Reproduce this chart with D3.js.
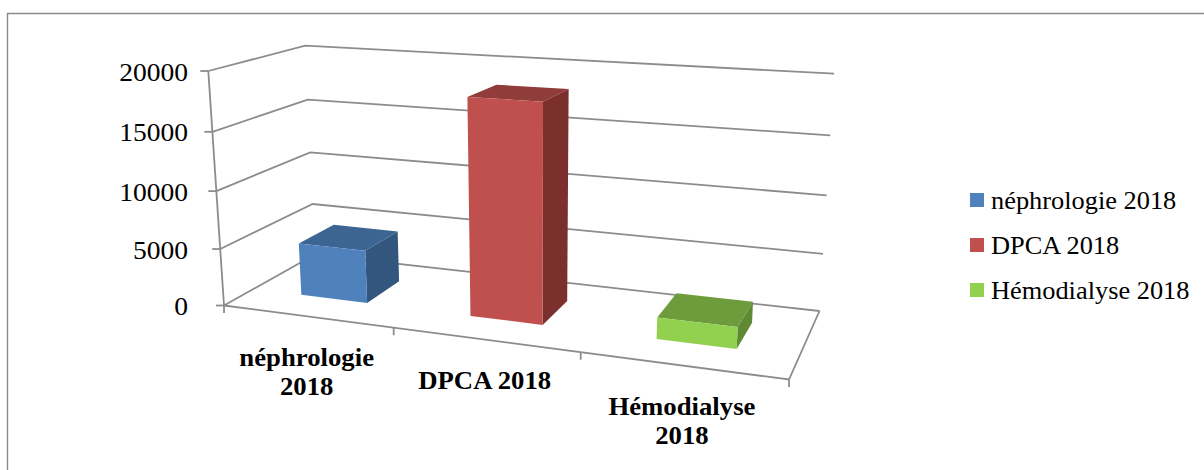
<!DOCTYPE html>
<html><head><meta charset="utf-8">
<script src="https://cdn.jsdelivr.net/npm/d3@7"></script>
<style>
html,body{margin:0;padding:0;background:#fff;}
svg{display:block;}
text{font-family:"Liberation Serif","Times New Roman",serif;fill:#000;}
</style></head><body>
<div id="chart"></div>
<script>
const categories = ["néphrologie 2018", "DPCA 2018", "Hémodialyse 2018"];
const values = [4650, 18300, 1800];
const yTicks = [0, 5000, 10000, 15000, 20000];
const faceColors = ["#4f81bd", "#c0504d", "#92d050"];
const topColors = ["#3d6593", "#8f3c3a", "#6e9c3c"];
const sideColors = ["#33567f", "#7b302e", "#5f8a33"];
const categoryLabels = [["néphrologie", "2018"], ["DPCA 2018"], ["Hémodialyse", "2018"]];

const W = 1204, H = 470;
const svg = d3.select("#chart").append("svg").attr("width", W).attr("height", H);

// projective calibration of the 3D box (u along categories, v in depth, h in height)
const O = [224, 305.5], U = [789, 379.5], V = [315, 254.5], D = [819.5, 311], T = [208.3, 71], DT = [834, 73.5];
const d1 = [U[0]-D[0], U[1]-D[1]], d2 = [V[0]-D[0], V[1]-D[1]], s = [O[0]-U[0]+D[0]-V[0], O[1]-U[1]+D[1]-V[1]];
const den = d1[0]*d2[1]-d2[0]*d1[1];
const p = (s[0]*d2[1]-d2[0]*s[1])/den, q = (d1[0]*s[1]-s[0]*d1[1])/den;
const a = [0,1].map(i => U[i]*(1+p)-O[i]), b = [0,1].map(i => V[i]*(1+q)-O[i]);
// vanishing point of the vertical edges gives the height perspective
const k1 = (T[0]-O[0])/(T[1]-O[1]), k2 = (DT[0]-D[0])/(DT[1]-D[1]);
const vpY = (D[0]-O[0]+k1*O[1]-k2*D[1])/(k1-k2);
const r = (vpY-O[1])/(vpY-T[1])-1;
const c = [0,1].map(i => T[i]*(1+r)-O[i]);
// category boundaries on the front edge
const tickX = [393.7, 580.7];
const uWarp = d3.scaleLinear().domain([0, 1/3, 2/3, 1])
  .range([0, ...tickX.map(x => (x-O[0])/(a[0]-p*x)), 1]);
function project(u0, v, h) {
  const u = uWarp(u0);
  const w = 1 + p*u + q*v + r*h;
  return [(O[0]+u*a[0]+v*b[0]+h*c[0])/w, (O[1]+u*a[1]+v*b[1]+h*c[1])/w + 2*u*v*h];
}

const xScale = d3.scaleBand().domain(categories).range([0, 1]).paddingInner(0.6).paddingOuter(0.3);
const zScale = d3.scaleBand().domain(["d"]).range([0, 1]).paddingInner(0).paddingOuter(0.75);
const yScale = d3.scaleLinear().domain([0, 20000]).range([0, 1]);
const line = d3.line();
const gridColor = "#8c8c8c";

// frame
svg.append("path").attr("d", `M7.5,${H}V13.5H${W}`).attr("fill","none").attr("stroke","#8a8a8a").attr("stroke-width",1.4);

// grid
const grid = svg.append("g").attr("fill","none").attr("stroke",gridColor).attr("stroke-width",1.8);
grid.selectAll("path.g").data(yTicks).join("path").attr("class","g")
  .attr("d", t => line([project(0,0,yScale(t)), project(0,1,yScale(t)), project(1,1,yScale(t))]));
grid.append("path").attr("d", line([project(0,0,0), project(0,0,1)]));
grid.append("path").attr("d", line([project(0,0,0), project(1,0,0), project(1,1,0)]));
grid.selectAll("path.yt").data(yTicks).join("path").attr("class","yt")
  .attr("d", t => { const P = project(0,0,yScale(t)); return line([[P[0]-8,P[1]],P]); });
const step = xScale.step();
grid.selectAll("path.xt").data(d3.range(0,4)).join("path").attr("class","xt")
  .attr("d", i => { const P = project(i*step,0,0); return line([P,[P[0],P[1]+7.5]]); });

// bars
const z0 = zScale("d"), z1 = z0 + zScale.bandwidth();
const bars = svg.append("g").selectAll("g").data(categories).join("g");
bars.each(function(cat, i) {
  const g = d3.select(this), u0 = xScale(cat), u1 = u0 + xScale.bandwidth(), h = yScale(values[i]);
  const face = [project(u0,z0,0), project(u1,z0,0), project(u1,z0,h), project(u0,z0,h)];
  const top = [project(u0,z0,h), project(u1,z0,h), project(u1,z1,h), project(u0,z1,h)];
  const side = [project(u1,z0,0), project(u1,z1,0), project(u1,z1,h), project(u1,z0,h)];
  g.append("path").attr("d", line(top)+"Z").attr("fill", topColors[i]);
  g.append("path").attr("d", line(side)+"Z").attr("fill", sideColors[i]);
  g.append("path").attr("d", line(face)+"Z").attr("fill", faceColors[i]);
});

// text helper: the reference text is horizontally stretched
function label(x, y, str, anchor, weight, size, sx) {
  svg.append("text").attr("transform", `translate(${x},${y}) scale(${sx},1)`)
    .attr("text-anchor", anchor).attr("font-size", size).attr("font-weight", weight).text(str);
}
yTicks.forEach(t => { const P = project(0,0,yScale(t)); label(188, P[1]+9.5, d3.format("d")(t), "end", "normal", 26, 1.06); });
categories.forEach((cat, i) => {
  const P = project(xScale(cat)+xScale.bandwidth()/2, 0, 0);
  categoryLabels[i].forEach((ln, k) => label(P[0], P[1]+49.5+k*29, ln, "middle", "bold", 25, 1.07));
});

// legend
const legendY = d3.scalePoint().domain(categories).range([209, 299]);
categories.forEach((cat, i) => {
  const y = legendY(cat);
  svg.append("rect").attr("x",970).attr("y",y-16).attr("width",14).attr("height",14).attr("fill",faceColors[i]);
  label(991, y, cat, "start", "normal", 25, 1.055);
});
</script>
</body></html>
